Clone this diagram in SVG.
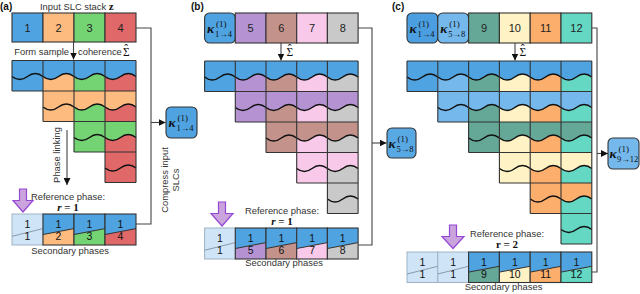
<svg xmlns="http://www.w3.org/2000/svg" width="640" height="294" viewBox="0 0 640 294">
<style>
.lbl{font-family:"Liberation Sans",Arial,sans-serif;font-size:9.4px;fill:#333}
.pl{font-family:"Liberation Sans",Arial,sans-serif;font-size:10px;font-weight:bold;fill:#111}
.num{font-family:"Liberation Sans",Arial,sans-serif;font-size:11px;fill:#222;text-anchor:middle}
.bn{font-family:"Liberation Sans",Arial,sans-serif;font-size:10.5px;fill:#111;text-anchor:middle}
.m{font-family:"Liberation Serif","DejaVu Serif",serif;fill:#111}
.sig{font-family:"Liberation Serif","DejaVu Serif",serif;font-size:11.5px;fill:#111}
.kap{font-family:"Liberation Serif","DejaVu Serif",serif;font-size:13.5px;font-weight:bold;font-style:italic;fill:#111}
.sup{font-family:"Liberation Serif","DejaVu Serif",serif;font-size:9px;fill:#111}
.sub{font-family:"Liberation Serif","DejaVu Serif",serif;font-size:8.5px;fill:#111}
.cell{stroke:#333;stroke-width:1.1}
.grid{fill:none;stroke:#333;stroke-width:1.1}
.wave{fill:none;stroke:#111;stroke-width:1.5}
.con{fill:none;stroke:#444;stroke-width:1.1}
.node{stroke:#333;stroke-width:1.1}
.diag{stroke:#333;stroke-width:1}
.ldiag{stroke:#8a9aab;stroke-width:1}
.light{fill:#cfe4f6;stroke:#9fb3c4;stroke-width:1}
.parrow{fill:#caa4dc;stroke:#9747d6;stroke-width:1.2}
.cb{fill:#4fa3e0}.co{fill:#fdbb80}.cg{fill:#74d474}.cr{fill:#e06868}
.cp{fill:#b593d3}.cbr{fill:#c3938b}.cpk{fill:#f8c9e9}.cgy{fill:#c9c9c9}
.clb{fill:#74b8ec}.cdt{fill:#66a897}.cy{fill:#fff2c4}.co2{fill:#fcae6c}.ct{fill:#64d8c3}
</style>
<defs>
<marker id="ah" viewBox="0 0 8 8" refX="8" refY="4" markerWidth="7" markerHeight="7" markerUnits="userSpaceOnUse" orient="auto">
<path d="M0,0L8,4L0,8z" fill="#111"/>
</marker>
</defs>

<!-- panel labels -->
<text class="pl" x="0" y="10">(a)</text>
<text class="pl" x="191" y="10">(b)</text>
<text class="pl" x="392" y="10">(c)</text>

<!-- ============ PANEL A ============ -->
<text class="lbl" x="40" y="10">Input SLC stack <tspan class="m" font-weight="bold" font-size="11px">z</tspan></text>
<g id="a-input">
<rect class="cell cb" x="12" y="13" width="31" height="29"/>
<rect class="cell co" x="43" y="13" width="31" height="29"/>
<rect class="cell cg" x="74" y="13" width="31" height="29"/>
<rect class="cell cr" x="105" y="13" width="31" height="29"/>
<text class="num" x="27.5" y="31.5">1</text>
<text class="num" x="58.5" y="31.5">2</text>
<text class="num" x="89.5" y="31.5">3</text>
<text class="num" x="120.5" y="31.5">4</text>
</g>
<text class="lbl" x="69" y="55" text-anchor="end">Form sample</text>
<text class="lbl" x="78" y="55">coherence</text>
<text class="sig" x="123" y="56">Σ<tspan dx="-5.4" dy="-3.2">ˆ</tspan></text>

<g id="a-matrix">
<rect class="cb" x="12" y="60.5" width="31" height="30.5"/>
<rect class="co" x="43" y="60.5" width="31" height="61"/>
<rect class="cg" x="74" y="60.5" width="31" height="91.5"/>
<rect class="cr" x="105" y="60.5" width="31" height="122"/>
<path class="cb" d="M12,60.5H136V76.5q-7.75,-6 -15.5,0t-15.5,0t-15.5,0t-15.5,0t-15.5,0t-15.5,0t-15.5,0t-15.5,0Z"/>
<path class="co" d="M43,91H136V107q-7.75,-6 -15.5,0t-15.5,0t-15.5,0t-15.5,0t-15.5,0t-15.5,0Z"/>
<path class="cg" d="M74,121.5H136V137.5q-7.75,-6 -15.5,0t-15.5,0t-15.5,0t-15.5,0Z"/>
<path class="cr" d="M105,152H136V168q-7.75,-6 -15.5,0t-15.5,0Z"/>
<path class="wave" d="M12,76.5q7.75,6 15.5,0t15.5,0t15.5,0t15.5,0t15.5,0t15.5,0t15.5,0t15.5,0"/>
<path class="wave" d="M43,107q7.75,6 15.5,0t15.5,0t15.5,0t15.5,0t15.5,0t15.5,0"/>
<path class="wave" d="M74,137.5q7.75,6 15.5,0t15.5,0t15.5,0t15.5,0"/>
<path class="wave" d="M105,168q7.75,6 15.5,0t15.5,0"/>
<path class="grid" d="M12,60.5H136M12,91H136M43,121.5H136M74,152H136M105,182.5H136M12,60.5V91M43,60.5V121.5M74,60.5V152M105,60.5V182.5M136,60.5V182.5"/>
</g>

<text class="lbl" transform="translate(60,155) rotate(-90)" text-anchor="middle">Phase linking</text>

<path class="parrow" d="M19.5,189H26.5V200.5H33L23,212L13,200.5H19.5Z"/>
<text class="lbl" x="68" y="199.5" text-anchor="middle">Reference phase:</text>
<text class="m" x="68" y="210.5" text-anchor="middle" font-size="11px" font-weight="bold"><tspan font-style="italic">r</tspan> = 1</text>

<g id="a-secondary">
<rect class="light" x="12" y="214" width="31" height="31"/>
<line class="ldiag" x1="12" y1="236.3" x2="43" y2="228.6"/>
<rect class="co" x="43" y="214" width="31" height="31"/>
<polygon class="cb" points="43,214 74,214 74,228.6 43,234.5"/>
<line class="diag" x1="43" y1="234.5" x2="74" y2="228.6"/>
<rect class="cell" fill="none" x="43" y="214" width="31" height="31"/>
<rect class="cg" x="74" y="214" width="31" height="31"/>
<polygon class="cb" points="74,214 105,214 105,228.6 74,234.5"/>
<line class="diag" x1="74" y1="234.5" x2="105" y2="228.6"/>
<rect class="cell" fill="none" x="74" y="214" width="31" height="31"/>
<rect class="cr" x="105" y="214" width="31" height="31"/>
<polygon class="cb" points="105,214 136,214 136,228.6 105,234.5"/>
<line class="diag" x1="105" y1="234.5" x2="136" y2="228.6"/>
<rect class="cell" fill="none" x="105" y="214" width="31" height="31"/>
<text class="bn" x="27.5" y="228">1</text><text class="bn" x="27.5" y="240">1</text>
<text class="bn" x="58.5" y="228">1</text><text class="bn" x="58.5" y="240">2</text>
<text class="bn" x="89.5" y="228">1</text><text class="bn" x="89.5" y="240">3</text>
<text class="bn" x="120.5" y="228">1</text><text class="bn" x="120.5" y="240">4</text>
</g>
<text class="lbl" x="70" y="254" text-anchor="middle">Secondary phases</text>

<text class="lbl" transform="translate(168,180) rotate(-90)" text-anchor="middle">Compress input</text>
<text class="lbl" transform="translate(179,180) rotate(-90)" text-anchor="middle">SLCs</text>

<g id="a-kappa">
<rect class="node cb" x="166" y="107" width="31" height="31" rx="5"/>
<text class="kap" x="168.5" y="127">κ</text>
<text class="sup" x="177.5" y="120.5">(1)</text>
<text class="sub" x="176.5" y="131">1→4</text>
</g>

<!-- ============ PANEL B ============ -->
<g id="b-input">
<rect class="node cb" x="204.6" y="13" width="30.7" height="30" rx="5"/>
<text class="kap" x="207" y="33">κ</text>
<text class="sup" x="216" y="26.5">(1)</text>
<text class="sub" x="215" y="37">1→4</text>
<rect class="cell cp" x="235.3" y="13" width="30.7" height="30"/>
<rect class="cell cbr" x="266" y="13" width="30.7" height="30"/>
<rect class="cell cpk" x="296.7" y="13" width="30.7" height="30"/>
<rect class="cell cgy" x="327.4" y="13" width="30.7" height="30"/>
<text class="num" x="250.65" y="32">5</text>
<text class="num" x="281.35" y="32">6</text>
<text class="num" x="312.05" y="32">7</text>
<text class="num" x="342.75" y="32">8</text>
</g>
<text class="sig" x="286.5" y="56">Σ<tspan dx="-5.4" dy="-3.2">ˆ</tspan></text>

<g id="b-matrix">
<rect class="cb" x="204.6" y="61" width="30.7" height="30.5"/>
<rect class="cp" x="235.3" y="61" width="30.7" height="61"/>
<rect class="cbr" x="266" y="61" width="30.7" height="91.5"/>
<rect class="cpk" x="296.7" y="61" width="30.7" height="122"/>
<rect class="cgy" x="327.4" y="61" width="30.7" height="152.5"/>
<path class="cb" d="M204.6,61H358.1V77q-7.675,-6 -15.35,0t-15.35,0t-15.35,0t-15.35,0t-15.35,0t-15.35,0t-15.35,0t-15.35,0t-15.35,0t-15.35,0Z"/>
<path class="cp" d="M235.3,91.5H358.1V107.5q-7.675,-6 -15.35,0t-15.35,0t-15.35,0t-15.35,0t-15.35,0t-15.35,0t-15.35,0t-15.35,0Z"/>
<path class="cbr" d="M266,122H358.1V138q-7.675,-6 -15.35,0t-15.35,0t-15.35,0t-15.35,0t-15.35,0t-15.35,0Z"/>
<path class="cpk" d="M296.7,152.5H358.1V168.5q-7.675,-6 -15.35,0t-15.35,0t-15.35,0t-15.35,0Z"/>
<path class="cgy" d="M327.4,183H358.1V199q-7.675,-6 -15.35,0t-15.35,0Z"/>
<path class="wave" d="M204.6,77q7.675,6 15.35,0t15.35,0t15.35,0t15.35,0t15.35,0t15.35,0t15.35,0t15.35,0t15.35,0t15.35,0"/>
<path class="wave" d="M235.3,107.5q7.675,6 15.35,0t15.35,0t15.35,0t15.35,0t15.35,0t15.35,0t15.35,0t15.35,0"/>
<path class="wave" d="M266,138q7.675,6 15.35,0t15.35,0t15.35,0t15.35,0t15.35,0t15.35,0"/>
<path class="wave" d="M296.7,168.5q7.675,6 15.35,0t15.35,0t15.35,0t15.35,0"/>
<path class="wave" d="M327.4,199q7.675,6 15.35,0t15.35,0"/>
<path class="grid" d="M204.6,61H358.1M204.6,91.5H358.1M235.3,122H358.1M266,152.5H358.1M296.7,183H358.1M327.4,213.5H358.1M204.6,61V91.5M235.3,61V122M266,61V152.5M296.7,61V183M327.4,61V213.5M358.1,61V213.5"/>
</g>

<path class="parrow" d="M218.5,202H225.5V213.5H233L222,226L211,213.5H218.5Z"/>
<text class="lbl" x="282" y="213.5" text-anchor="middle">Reference phase:</text>
<text class="m" x="282" y="224.5" text-anchor="middle" font-size="11px" font-weight="bold"><tspan font-style="italic">r</tspan> = 1</text>

<g id="b-secondary">
<rect class="light" x="204.6" y="228" width="30.7" height="31"/>
<line class="ldiag" x1="204.6" y1="250.3" x2="235.3" y2="242.6"/>
<rect class="cp" x="235.3" y="228" width="30.7" height="31"/>
<polygon class="cb" points="235.3,228 266,228 266,242.6 235.3,248.5"/>
<line class="diag" x1="235.3" y1="248.5" x2="266" y2="242.6"/>
<rect class="cell" fill="none" x="235.3" y="228" width="30.7" height="31"/>
<rect class="cbr" x="266" y="228" width="30.7" height="31"/>
<polygon class="cb" points="266,228 296.7,228 296.7,242.6 266,248.5"/>
<line class="diag" x1="266" y1="248.5" x2="296.7" y2="242.6"/>
<rect class="cell" fill="none" x="266" y="228" width="30.7" height="31"/>
<rect class="cpk" x="296.7" y="228" width="30.7" height="31"/>
<polygon class="cb" points="296.7,228 327.4,228 327.4,242.6 296.7,248.5"/>
<line class="diag" x1="296.7" y1="248.5" x2="327.4" y2="242.6"/>
<rect class="cell" fill="none" x="296.7" y="228" width="30.7" height="31"/>
<rect class="cgy" x="327.4" y="228" width="30.7" height="31"/>
<polygon class="cb" points="327.4,228 358.1,228 358.1,242.6 327.4,248.5"/>
<line class="diag" x1="327.4" y1="248.5" x2="358.1" y2="242.6"/>
<rect class="cell" fill="none" x="327.4" y="228" width="30.7" height="31"/>
<text class="bn" x="219.95" y="242">1</text><text class="bn" x="219.95" y="254">1</text>
<text class="bn" x="250.65" y="242">1</text><text class="bn" x="250.65" y="254">5</text>
<text class="bn" x="281.35" y="242">1</text><text class="bn" x="281.35" y="254">6</text>
<text class="bn" x="312.05" y="242">1</text><text class="bn" x="312.05" y="254">7</text>
<text class="bn" x="342.75" y="242">1</text><text class="bn" x="342.75" y="254">8</text>
</g>
<text class="lbl" x="284" y="266" text-anchor="middle">Secondary phases</text>

<g id="b-kappa">
<rect class="node" fill="#58a8e4" x="387" y="128" width="29" height="30" rx="5"/>
<text class="kap" x="388.5" y="148">κ</text>
<text class="sup" x="397.5" y="141.5">(1)</text>
<text class="sub" x="396.5" y="152">5→8</text>
</g>

<!-- ============ PANEL C ============ -->
<g id="c-input">
<rect class="node" fill="#4b9fe0" x="407" y="13" width="30.8" height="30" rx="5"/>
<text class="kap" x="409.5" y="33">κ</text>
<text class="sup" x="418.5" y="26.5">(1)</text>
<text class="sub" x="417.5" y="37">1→4</text>
<rect class="node clb" x="437.8" y="13" width="30.8" height="30" rx="5"/>
<text class="kap" x="440.3" y="33">κ</text>
<text class="sup" x="449.3" y="26.5">(1)</text>
<text class="sub" x="448.3" y="37">5→8</text>
<rect class="cell cdt" x="468.6" y="13" width="30.8" height="30"/>
<rect class="cell cy" x="499.4" y="13" width="30.8" height="30"/>
<rect class="cell co2" x="530.2" y="13" width="30.8" height="30"/>
<rect class="cell ct" x="561" y="13" width="30.8" height="30"/>
<text class="num" x="484" y="32">9</text>
<text class="num" x="514.8" y="32">10</text>
<text class="num" x="545.6" y="32">11</text>
<text class="num" x="576.4" y="32">12</text>
</g>
<text class="sig" x="519.5" y="56">Σ<tspan dx="-5.4" dy="-3.2">ˆ</tspan></text>

<g id="c-matrix">
<rect class="cb" x="407" y="61" width="30.8" height="30.5"/>
<rect class="clb" x="437.8" y="61" width="30.8" height="61"/>
<rect class="cdt" x="468.6" y="61" width="30.8" height="91.5"/>
<rect class="cy" x="499.4" y="61" width="30.8" height="122"/>
<rect class="co2" x="530.2" y="61" width="30.8" height="152.5"/>
<rect class="ct" x="561" y="61" width="30.8" height="183"/>
<path class="cb" d="M407,61H591.8V77q-7.7,-6 -15.4,0t-15.4,0t-15.4,0t-15.4,0t-15.4,0t-15.4,0t-15.4,0t-15.4,0t-15.4,0t-15.4,0t-15.4,0t-15.4,0Z"/>
<path class="clb" d="M437.8,91.5H591.8V107.5q-7.7,-6 -15.4,0t-15.4,0t-15.4,0t-15.4,0t-15.4,0t-15.4,0t-15.4,0t-15.4,0t-15.4,0t-15.4,0Z"/>
<path class="cdt" d="M468.6,122H591.8V138q-7.7,-6 -15.4,0t-15.4,0t-15.4,0t-15.4,0t-15.4,0t-15.4,0t-15.4,0t-15.4,0Z"/>
<path class="cy" d="M499.4,152.5H591.8V168.5q-7.7,-6 -15.4,0t-15.4,0t-15.4,0t-15.4,0t-15.4,0t-15.4,0Z"/>
<path class="co2" d="M530.2,183H591.8V199q-7.7,-6 -15.4,0t-15.4,0t-15.4,0t-15.4,0Z"/>
<path class="ct" d="M561,213.5H591.8V229.5q-7.7,-6 -15.4,0t-15.4,0Z"/>
<path class="wave" d="M407,77q7.7,6 15.4,0t15.4,0t15.4,0t15.4,0t15.4,0t15.4,0t15.4,0t15.4,0t15.4,0t15.4,0t15.4,0t15.4,0"/>
<path class="wave" d="M437.8,107.5q7.7,6 15.4,0t15.4,0t15.4,0t15.4,0t15.4,0t15.4,0t15.4,0t15.4,0t15.4,0t15.4,0"/>
<path class="wave" d="M468.6,138q7.7,6 15.4,0t15.4,0t15.4,0t15.4,0t15.4,0t15.4,0t15.4,0t15.4,0"/>
<path class="wave" d="M499.4,168.5q7.7,6 15.4,0t15.4,0t15.4,0t15.4,0t15.4,0t15.4,0"/>
<path class="wave" d="M530.2,199q7.7,6 15.4,0t15.4,0t15.4,0t15.4,0"/>
<path class="wave" d="M561,229.5q7.7,6 15.4,0t15.4,0"/>
<path class="grid" d="M407,61H591.8M407,91.5H591.8M437.8,122H591.8M468.6,152.5H591.8M499.4,183H591.8M530.2,213.5H591.8M561,244H591.8M407,61V91.5M437.8,61V122M468.6,61V152.5M499.4,61V183M530.2,61V213.5M561,61V244M591.8,61V244"/>
</g>

<path class="parrow" d="M449.5,225H456.5V236.5H464L453,248.5L442,236.5H449.5Z"/>
<text class="lbl" x="507" y="236.5" text-anchor="middle">Reference phase:</text>
<text class="m" x="507" y="247.5" text-anchor="middle" font-size="11px" font-weight="bold">r = 2</text>

<g id="c-secondary">
<rect class="light" x="407" y="252" width="30.8" height="30.5"/>
<line class="ldiag" x1="407" y1="274" x2="437.8" y2="266.3"/>
<rect class="light" x="437.8" y="252" width="30.8" height="30.5"/>
<line class="ldiag" x1="437.8" y1="274" x2="468.6" y2="266.3"/>
<rect class="cdt" x="468.6" y="252" width="30.8" height="30.5"/>
<polygon class="cb" points="468.6,252 499.4,252 499.4,266.3 468.6,272.1"/>
<line class="diag" x1="468.6" y1="272.1" x2="499.4" y2="266.3"/>
<rect class="cell" fill="none" x="468.6" y="252" width="30.8" height="30.5"/>
<rect class="cy" x="499.4" y="252" width="30.8" height="30.5"/>
<polygon class="cb" points="499.4,252 530.2,252 530.2,266.3 499.4,272.1"/>
<line class="diag" x1="499.4" y1="272.1" x2="530.2" y2="266.3"/>
<rect class="cell" fill="none" x="499.4" y="252" width="30.8" height="30.5"/>
<rect class="co2" x="530.2" y="252" width="30.8" height="30.5"/>
<polygon class="cb" points="530.2,252 561,252 561,266.3 530.2,272.1"/>
<line class="diag" x1="530.2" y1="272.1" x2="561" y2="266.3"/>
<rect class="cell" fill="none" x="530.2" y="252" width="30.8" height="30.5"/>
<rect class="ct" x="561" y="252" width="30.8" height="30.5"/>
<polygon class="cb" points="561,252 591.8,252 591.8,266.3 561,272.1"/>
<line class="diag" x1="561" y1="272.1" x2="591.8" y2="266.3"/>
<rect class="cell" fill="none" x="561" y="252" width="30.8" height="30.5"/>
<text class="bn" x="422.4" y="266">1</text><text class="bn" x="422.4" y="277.5">1</text>
<text class="bn" x="453.2" y="266">1</text><text class="bn" x="453.2" y="277.5">1</text>
<text class="bn" x="484" y="266">1</text><text class="bn" x="484" y="277.5">9</text>
<text class="bn" x="514.8" y="266">1</text><text class="bn" x="514.8" y="277.5">10</text>
<text class="bn" x="545.6" y="266">1</text><text class="bn" x="545.6" y="277.5">11</text>
<text class="bn" x="576.4" y="266">1</text><text class="bn" x="576.4" y="277.5">12</text>
</g>
<text class="lbl" x="503.5" y="290" text-anchor="middle">Secondary phases</text>

<g id="c-kappa">
<rect class="node clb" x="608" y="138" width="31" height="31" rx="5"/>
<text class="kap" x="609.5" y="158">κ</text>
<text class="sup" x="618.5" y="151.5">(1)</text>
<text class="sub" x="617" y="162" font-size="8px">9→12</text>
</g>

<!-- ============ CONNECTORS ============ -->
<g id="connectors">
<path class="con" d="M73.5,42V59.5" marker-end="url(#ah)"/>
<path class="con" d="M67,130V185" marker-end="url(#ah)"/>
<path class="con" d="M136,28H151V224H136"/>
<path class="con" d="M151,122.5H165.5" marker-end="url(#ah)"/>
<path class="con" d="M281,43V60.5" marker-end="url(#ah)"/>
<path class="con" d="M358.1,28H372V245H358.1"/>
<path class="con" d="M372,143H386.5" marker-end="url(#ah)"/>
<path class="con" d="M515,43V60.5" marker-end="url(#ah)"/>
<path class="con" d="M591.8,28H597V272H591.8"/>
<path class="con" d="M597,153.5H608" marker-end="url(#ah)"/>
</g>
</svg>
